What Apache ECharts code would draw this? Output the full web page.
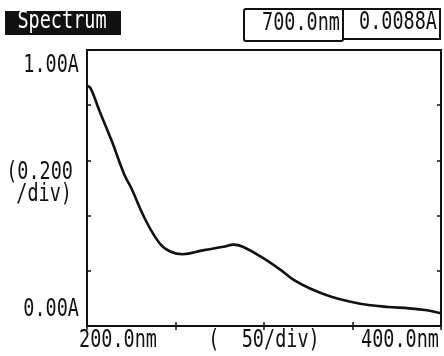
<!DOCTYPE html>
<html>
<head>
<meta charset="utf-8">
<script src="https://cdn.jsdelivr.net/npm/echarts@6/dist/echarts.min.js"></script>
<style>html,body{margin:0;padding:0;background:#fff}#c{width:444px;height:356px}</style>
</head>
<body>
<div id="c"></div>
<script>
const wavelengths = [200, 202, 207, 214, 221, 225, 233, 241, 247, 254, 266, 277, 283, 288, 298, 309, 317, 326, 338, 349, 359, 370, 382, 391, 400];
const absorbance = [0.870, 0.862, 0.78, 0.67, 0.55, 0.50, 0.385, 0.30, 0.27, 0.26, 0.275, 0.287, 0.295, 0.287, 0.252, 0.205, 0.166, 0.136, 0.106, 0.088, 0.076, 0.069, 0.064, 0.058, 0.046];
const xTickLabels = ['200.0nm', '400.0nm'];
const xDivLabel = '(  50/div)';
const yTickLabels = ['1.00A', '0.00A'];
const yDivLabel = ['(0.200', '/div)'];
const titleText = 'Spectrum';
const cursorWl = '700.0nm';
const cursorAbs = '0.0088A';

const chart = echarts.init(document.getElementById('c'));
const F = 'DejaVu Sans Mono';
function txt(t, x, y, align, color) {
  return {type: 'text', x: x, y: y, scaleY: 1.3, style: {text: t, fontFamily: F, fontSize: 18.5, fill: color || '#111', textAlign: align || 'left', textVerticalAlign: 'middle'}, z: 10};
}
const axisCommon = {
  type: 'value', min: 200, max: 400, interval: 50,
  axisLine: {show: true, lineStyle: {color: '#111', width: 2}},
  axisTick: {show: true, inside: true, length: 4, lineStyle: {color: '#111', width: 1.5}},
  axisLabel: {show: false}, splitLine: {show: false}
};
const yCommon = {
  type: 'value', min: 0, max: 1, interval: 0.2,
  axisLine: {show: true, lineStyle: {color: '#111', width: 2}},
  axisTick: {show: true, inside: true, length: 4, lineStyle: {color: '#111', width: 1.5}},
  axisLabel: {show: false}, splitLine: {show: false}
};
chart.setOption({
  animation: false,
  backgroundColor: '#fff',
  grid: {left: 87, right: 3, top: 50, bottom: 30, show: true, borderColor: '#111', borderWidth: 2},
  xAxis: [Object.assign({position: 'bottom'}, axisCommon), Object.assign({position: 'top'}, axisCommon)],
  yAxis: [Object.assign({position: 'left'}, yCommon), Object.assign({position: 'right'}, yCommon)],
  series: [{
    type: 'line', smooth: 0.4, symbol: 'none',
    lineStyle: {color: '#111', width: 2.6},
    data: wavelengths.map((w, i) => [w, absorbance[i]])
  }],
  graphic: [
    {type: 'rect', shape: {x: 5, y: 11, width: 116, height: 24}, style: {fill: '#111'}},
    txt(titleText, 62, 22, 'center', '#fff'),
    {type: 'rect', shape: {x: 244, y: 9, width: 99, height: 32, r: 2}, style: {fill: 'none', stroke: '#111', lineWidth: 2}},
    {type: 'rect', shape: {x: 343, y: 9, width: 97, height: 30}, style: {fill: 'none', stroke: '#111', lineWidth: 2}},
    txt(cursorWl, 340, 24, 'right'),
    txt(cursorAbs, 437, 23, 'right'),
    txt(yTickLabels[0], 79, 66, 'right'),
    txt(yDivLabel[0], 73, 173, 'right'),
    txt(yDivLabel[1], 72, 195, 'right'),
    txt(yTickLabels[1], 79, 310, 'right'),
    txt(xTickLabels[0], 118, 341, 'center'),
    txt(xDivLabel, 264, 341, 'center'),
    txt(xTickLabels[1], 400, 341, 'center')
  ]
});
</script>
</body>
</html>
